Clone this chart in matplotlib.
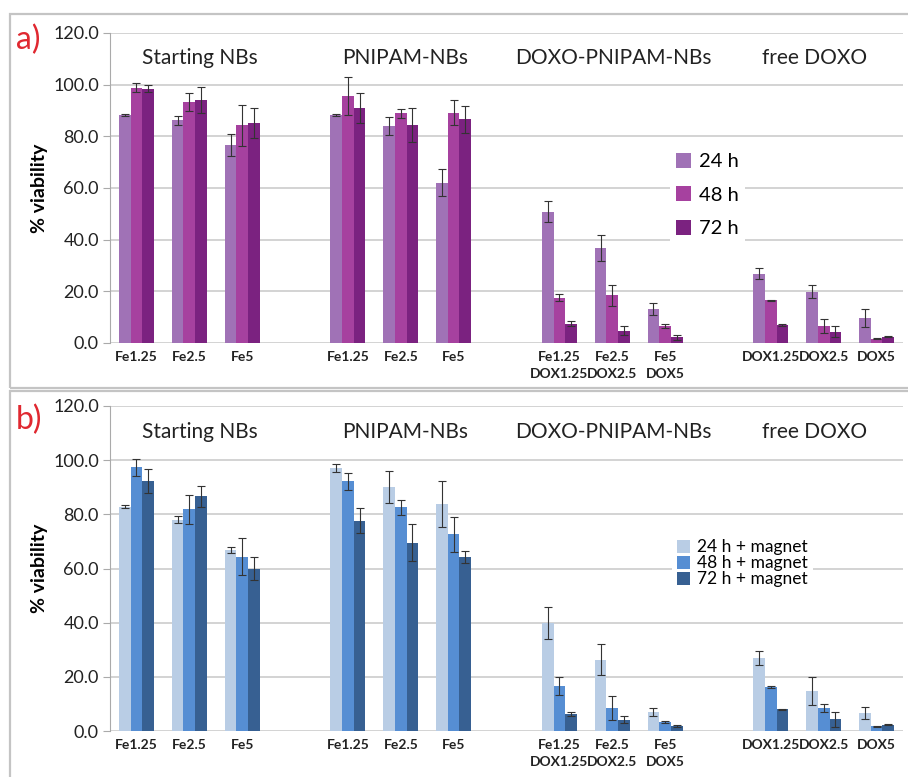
import numpy as np
import matplotlib.pyplot as plt
from matplotlib.patches import Rectangle

# categories (blank slot between the four groups)
labels = ["Fe1.25", "Fe2.5", "Fe5",
          "Fe1.25", "Fe2.5", "Fe5",
          "Fe1.25\nDOX1.25", "Fe2.5\nDOX2.5", "Fe5\nDOX5",
          "DOX1.25", "DOX2.5", "DOX5"]
slots = [0, 1, 2, 4, 5, 6, 8, 9, 10, 12, 13, 14]
groups = ["Starting NBs", "PNIPAM-NBs", "DOXO-PNIPAM-NBs", "free DOXO"]
group_x = [1.2, 5.08, 9.03, 12.83]

# panel a) no magnet
a_24 = [88.3, 86.2, 76.6, 88.2, 83.9, 62.0, 50.8, 36.8, 13.2, 26.9, 19.8, 9.7]
a_48 = [98.9, 93.3, 84.3, 95.5, 88.9, 89.2, 17.6, 18.4, 6.5, 16.6, 6.6, 1.7]
a_72 = [98.5, 94.1, 85.2, 91.0, 84.4, 86.6, 7.5, 4.8, 2.2, 6.9, 4.3, 2.4]
a_24_err = [0.3, 1.8, 4.4, 0.5, 3.4, 5.2, 4.1, 5.0, 2.2, 2.1, 2.5, 3.6]
a_48_err = [1.8, 3.5, 7.9, 7.4, 1.8, 4.7, 1.3, 4.1, 0.8, 0.2, 2.6, 0.3]
a_72_err = [1.5, 5.1, 5.9, 5.7, 6.6, 5.2, 1.0, 1.6, 0.9, 0.3, 2.1, 0.2]

# panel b) with magnet
b_24 = [82.8, 78.0, 66.9, 97.2, 90.1, 83.8, 39.8, 26.4, 7.0, 27.0, 14.7, 6.8]
b_48 = [97.3, 81.9, 64.4, 92.2, 82.6, 72.6, 16.5, 8.4, 3.2, 16.3, 8.4, 1.7]
b_72 = [92.4, 86.7, 59.9, 77.7, 69.6, 64.3, 6.3, 4.2, 2.0, 8.0, 4.3, 2.4]
b_24_err = [0.5, 1.3, 1.1, 1.5, 5.9, 8.4, 6.0, 5.9, 1.5, 2.7, 5.2, 2.2]
b_48_err = [3.2, 5.4, 6.7, 3.2, 2.8, 6.5, 3.3, 4.5, 0.4, 0.3, 1.4, 0.2]
b_72_err = [4.4, 3.9, 4.2, 4.7, 6.7, 2.1, 0.6, 1.2, 0.4, 0.2, 2.7, 0.3]

a_names = ["24 h", "48 h", "72 h"]
b_names = ["24 h + magnet", "48 h + magnet", "72 h + magnet"]
a_colors = ["#A072B6", "#A6419F", "#7B2280"]
b_colors = ["#B9CDE5", "#568ED3", "#376092"]

plt.rcParams["font.family"] = "Lato"

W, H = 908, 777
fig = plt.figure(figsize=(W / 100, H / 100), dpi=100)

# panel frames
for (x0, y0, x1, y1) in [(10, 14, 910, 388), (10, 391, 910, 780)]:
    fig.patches.append(Rectangle((x0 / W, 1 - y1 / H), (x1 - x0) / W, (y1 - y0) / H,
                                 transform=fig.transFigure, fill=False,
                                 edgecolor="#c4c4c4", lw=1.6))


def panel(rect, vals, errs, names, colors, tag, tag_y, leg_anchor, leg_space, leg_fs):
    left, top, right, bottom = rect
    ax = fig.add_axes([left / W, 1 - bottom / H, (right - left) / W, (bottom - top) / H])
    x = np.array(slots, dtype=float)
    w = 0.22
    for i in range(3):
        ax.bar(x + (i - 1) * w, vals[i], w, color=colors[i], label=names[i],
               yerr=errs[i], capsize=3,
               error_kw=dict(ecolor="#333333", elinewidth=0.8, capthick=0.8), zorder=3)
    ax.set_xlim(-0.5, 14.5)
    ax.set_ylim(0, 120)
    ax.set_yticks(np.arange(0, 121, 20))
    ax.set_yticklabels([f"{v:.1f}" for v in np.arange(0, 121, 20)], fontsize=13,
                       color="#222222")
    ax.set_xticks(x)
    ax.set_xticklabels(labels, fontsize=10, fontweight="bold", color="#222222",
                       linespacing=1.45)
    ax.tick_params(axis="x", length=0, pad=6)
    ax.tick_params(axis="y", length=5, color="#aaaaaa", pad=3)
    ax.grid(axis="y", color="#c8c8c8", lw=1.1, zorder=0)
    for s in ["top", "right", "bottom"]:
        ax.spines[s].set_visible(False)
    ax.spines["left"].set_color("#aaaaaa")
    ax.set_ylabel("% viability", fontsize=14, fontweight="bold", labelpad=4)
    for g, gx in zip(groups, group_x):
        ax.text(gx, 110.3, g, ha="center", va="center", fontsize=15, color="#222222")
    fig.text(16 / W, 1 - tag_y / H, tag, color="#E02830", fontsize=23,
             ha="left", va="center")
    leg = ax.legend(loc="upper left", bbox_to_anchor=leg_anchor, frameon=True,
                    fancybox=False, framealpha=1, edgecolor="none", facecolor="white",
                    handlelength=0.75, handleheight=0.75, handletextpad=0.4,
                    labelspacing=leg_space, fontsize=leg_fs, borderpad=0.3)
    leg.set_zorder(5)
    return ax


panel((110, 33, 903, 343), [a_24, a_48, a_72], [a_24_err, a_48_err, a_72_err],
      a_names, a_colors, "a)", 40, (0.693, 0.665), 0.8, 14.5)
panel((110, 406, 903, 731), [b_24, b_48, b_72], [b_24_err, b_48_err, b_72_err],
      b_names, b_colors, "b)", 420, (0.698, 0.632), 0.0, 12.5)

fig.savefig("out.png", dpi=100)
